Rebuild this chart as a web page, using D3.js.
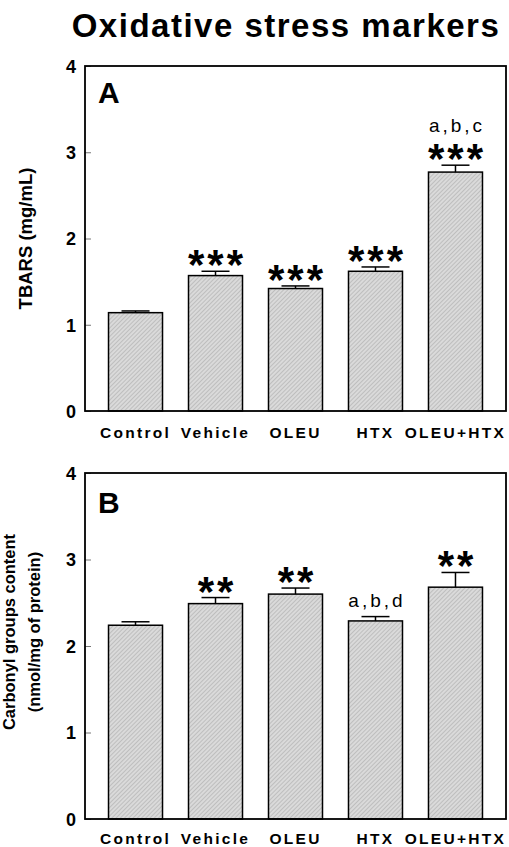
<!DOCTYPE html>
<html>
<head>
<meta charset="utf-8">
<script src="https://cdn.jsdelivr.net/npm/d3@7"></script>
<style>
  html, body { margin: 0; padding: 0; background: #fff; }
  svg { display: block; }
  text { font-family: "Liberation Sans", Arial, Helvetica, sans-serif; }
</style>
</head>
<body>
<div id="chart"></div>
<script>
// ---------- data ----------
const categories = ["Control", "Vehicle", "OLEU", "HTX", "OLEU+HTX"];
const tbarsMean = [1.14, 1.57, 1.42, 1.62, 2.77];
const tbarsSEM = [0.02, 0.05, 0.03, 0.05, 0.08];
const tbarsStars = ["", "***", "***", "***", "***"];
const tbarsLetters = ["", "", "", "", "a,b,c"];
const carbonylMean = [2.24, 2.49, 2.60, 2.29, 2.68];
const carbonylSEM = [0.04, 0.07, 0.07, 0.05, 0.17];
const carbonylStars = ["", "**", "**", "", "**"];
const carbonylLetters = ["", "", "", "a,b,d", ""];
const yTicks = [0, 1, 2, 3, 4];
const title = "Oxidative stress markers";

// ---------- layout ----------
const W = 509, H = 847;
const left = 85, right = 506;

const panels = [
  { letter: "A", top: 66, bottom: 411, mean: tbarsMean, sem: tbarsSEM, stars: tbarsStars, letters: tbarsLetters,
    ylabel: ["TBARS (mg/mL)"], ylabelSize: 18.5, ylabelX: [32], letterBase: 37, xPad: 16 },
  { letter: "B", top: 473, bottom: 819, mean: carbonylMean, sem: carbonylSEM, stars: carbonylStars, letters: carbonylLetters,
    ylabel: ["Carbonyl groups content", "(nmol/mg of protein)"], ylabelSize: 16.5, ylabelX: [15, 40], letterBase: 40, xPad: 13.5 }
];

const svg = d3.select("#chart").append("svg")
  .attr("width", W).attr("height", H)
  .attr("viewBox", `0 0 ${W} ${H}`);

// hatch pattern for bars
const defs = svg.append("defs");
const pat = defs.append("pattern")
  .attr("id", "hatch")
  .attr("patternUnits", "userSpaceOnUse")
  .attr("width", 3).attr("height", 3)
  .attr("patternTransform", "rotate(45)");
pat.append("rect").attr("width", 3).attr("height", 3).attr("fill", "#dadada");
pat.append("line").attr("x1", 0).attr("y1", 0).attr("x2", 0).attr("y2", 3)
  .attr("stroke", "#a8a8a8").attr("stroke-width", 1.1);

// title
svg.append("text")
  .attr("x", 286).attr("y", 37)
  .attr("text-anchor", "middle")
  .attr("font-size", 33).attr("font-weight", "bold")
  .attr("letter-spacing", 1.5)
  .text(title);

const x = d3.scaleBand()
  .domain(categories)
  .range([left, right])
  .paddingInner(0.325)
  .paddingOuter(0.294);

panels.forEach(p => {
  const y = d3.scaleLinear().domain([0, 4]).range([p.bottom, p.top]);
  const g = svg.append("g");

  // y axis (inward ticks)
  const ya = g.append("g")
    .attr("transform", `translate(${left},0)`)
    .call(d3.axisLeft(y).tickValues(yTicks).tickFormat(d3.format("d")).tickSize(-6).tickPadding(9));
  ya.select(".domain").remove();
  ya.selectAll(".tick line").attr("stroke", "#777").attr("stroke-width", 1);
  ya.selectAll(".tick text")
    .attr("font-family", "Liberation Sans, Arial, sans-serif")
    .attr("font-size", 18).attr("font-weight", "bold").attr("fill", "#000")
    .attr("dy", "0.36em");

  // x axis labels
  const xa = g.append("g")
    .attr("transform", `translate(0,${p.bottom})`)
    .call(d3.axisBottom(x).tickSize(0).tickPadding(p.xPad));
  xa.select(".domain").remove();
  xa.selectAll(".tick text")
    .attr("font-family", "Liberation Sans, Arial, sans-serif")
    .attr("font-size", 15.5).attr("font-weight", "bold").attr("fill", "#000")
    .attr("letter-spacing", 2.3);

  // bars
  g.selectAll("rect.bar").data(categories).enter().append("rect")
    .attr("class", "bar")
    .attr("x", d => x(d))
    .attr("width", x.bandwidth())
    .attr("y", (d, i) => y(p.mean[i]))
    .attr("height", (d, i) => y(0) - y(p.mean[i]))
    .attr("fill", "url(#hatch)")
    .attr("stroke", "#000").attr("stroke-width", 1.5);

  // error bars (upper only)
  const capW = 28;
  const eb = g.selectAll("g.err").data(categories).enter().append("g").attr("class", "err");
  eb.append("line")
    .attr("x1", d => x(d) + x.bandwidth() / 2).attr("x2", d => x(d) + x.bandwidth() / 2)
    .attr("y1", (d, i) => y(p.mean[i])).attr("y2", (d, i) => y(p.mean[i] + p.sem[i]))
    .attr("stroke", "#000").attr("stroke-width", 1.5);
  eb.append("line")
    .attr("x1", d => x(d) + x.bandwidth() / 2 - capW / 2).attr("x2", d => x(d) + x.bandwidth() / 2 + capW / 2)
    .attr("y1", (d, i) => y(p.mean[i] + p.sem[i])).attr("y2", (d, i) => y(p.mean[i] + p.sem[i]))
    .attr("stroke", "#000").attr("stroke-width", 1.5);

  // annotations
  categories.forEach((c, i) => {
    const cx = x(c) + x.bandwidth() / 2;
    let yy = y(p.mean[i] + p.sem[i]);
    if (p.stars[i]) {
      const starCenter = yy - 16;
      g.append("text")
        .attr("x", cx + 1.5).attr("y", starCenter + 24)
        .attr("text-anchor", "middle")
        .attr("font-size", 42).attr("font-weight", "bold")
        .attr("letter-spacing", 3)
        .text(p.stars[i]);
      yy = starCenter - 7;
    }
    if (p.letters[i]) {
      g.append("text")
        .attr("x", cx + 1.5).attr("y", yy - 10)
        .attr("text-anchor", "middle")
        .attr("font-size", 19)
        .attr("letter-spacing", 3)
        .text(p.letters[i]);
    }
  });

  // frame
  g.append("rect")
    .attr("x", left).attr("y", p.top)
    .attr("width", right - left).attr("height", p.bottom - p.top)
    .attr("fill", "none").attr("stroke", "#000").attr("stroke-width", 1.8);

  // panel letter
  g.append("text")
    .attr("x", 98).attr("y", p.top + p.letterBase)
    .attr("font-size", 30).attr("font-weight", "bold")
    .text(p.letter);

  // y label
  const cy = (p.top + p.bottom) / 2 - (p.ylabel.length > 1 ? 14 : 0);
  p.ylabel.forEach((t, k) => {
    g.append("text")
      .attr("transform", `translate(${p.ylabelX[k]},${cy}) rotate(-90)`)
      .attr("text-anchor", "middle")
      .attr("font-size", p.ylabelSize).attr("font-weight", "bold")
      .text(t);
  });
});
</script>
</body>
</html>
